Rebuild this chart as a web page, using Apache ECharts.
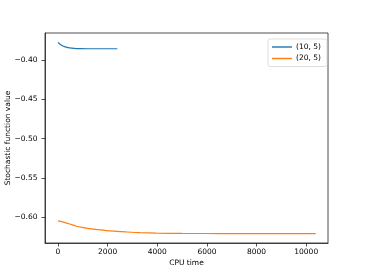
<!DOCTYPE html>
<html>
<head>
<meta charset="utf-8">
<script src="https://cdn.jsdelivr.net/npm/echarts@6/dist/echarts.min.js"></script>
<style>html,body{margin:0;padding:0;background:#fff}#c{width:365px;height:274px}</style>
</head>
<body>
<div id="c"></div>
<script>
var seriesNames = ['(10, 5)', '(20, 5)'];
var blueT = [0, 100, 200, 330, 470, 650, 870, 1200, 1600, 2000, 2390];
var blueV = [-0.3772, -0.3800, -0.3818, -0.3833, -0.3843, -0.3849, -0.3852, -0.3853, -0.3853, -0.3853, -0.3853];
var orangeT = [0, 250, 470, 740, 1000, 1275, 1600, 1950, 2350, 2750, 3300, 3960, 5000, 6000, 7000, 8000, 9000, 10380];
var orangeV = [-0.6050, -0.6068, -0.6089, -0.6118, -0.6135, -0.6149, -0.6162, -0.6174, -0.6183, -0.6191, -0.6200, -0.6206, -0.6210, -0.6211, -0.6212, -0.6212, -0.6213, -0.6213];
var xTicks = [0, 2000, 4000, 6000, 8000, 10000];
var yTicks = [-0.60, -0.55, -0.50, -0.45, -0.40];

function zip(a, b) { return a.map(function (v, i) { return [v, b[i]]; }); }
var font = 'DejaVu Sans';
var chart = echarts.init(document.getElementById('c'), null, {renderer: 'canvas'});
chart.setOption({
  animation: false,
  backgroundColor: '#fff',
  textStyle: {fontFamily: font},
  grid: {left: 45, right: 37, top: 33, bottom: 31, containLabel: false, outerBoundsMode: 'none',
    show: true, borderColor: '#222', borderWidth: 0.8, backgroundColor: 'transparent'},
  legend: {
    data: seriesNames, orient: 'vertical', left: 268, top: 39,
    itemWidth: 20, itemHeight: 1.4, itemGap: 3.5, icon: 'rect',
    padding: [4, 6, 4, 4], borderColor: '#d6d6d6', borderWidth: 0.8, borderRadius: 2,
    backgroundColor: 'rgba(255,255,255,0.8)',
    textStyle: {fontFamily: font, fontSize: 7.5, color: '#000', padding: [0, 0, 0, -1]}
  },
  xAxis: {
    type: 'value', min: -523, max: 10877,
    name: 'CPU time', nameLocation: 'middle', nameGap: 16.5, nameMoveOverlap: false,
    nameTextStyle: {fontFamily: font, fontSize: 7.5, color: '#000'},
    axisLine: {show: true, onZero: false, lineStyle: {color: '#222', width: 0.8}},
    axisTick: {show: true, length: 3.5, lineStyle: {color: '#222', width: 0.8}, customValues: xTicks},
    axisLabel: {fontFamily: font, fontSize: 7.5, color: '#000', margin: 5.5, customValues: xTicks, formatter: function (v) { return String(v); }},
    splitLine: {show: false}
  },
  yAxis: {
    type: 'value', min: -0.6332, max: -0.3652,
    name: 'Stochastic function value', nameLocation: 'middle', nameGap: 33, nameMoveOverlap: false,
    nameTextStyle: {fontFamily: font, fontSize: 7.5, color: '#000'},
    axisLine: {show: true, onZero: false, lineStyle: {color: '#222', width: 0.8}},
    axisTick: {show: true, length: 3.5, lineStyle: {color: '#222', width: 0.8}, customValues: yTicks},
    axisLabel: {fontFamily: font, fontSize: 7.5, color: '#000', margin: 7.5, customValues: yTicks,
      formatter: function (v) { return '\u2212' + Math.abs(v).toFixed(2); }},
    splitLine: {show: false}
  },
  series: [
    {name: seriesNames[0], type: 'line', data: zip(blueT, blueV), showSymbol: false, smooth: 0.3,
      lineStyle: {color: '#1f77b4', width: 1.2}, itemStyle: {color: '#1f77b4'}},
    {name: seriesNames[1], type: 'line', data: zip(orangeT, orangeV), showSymbol: false, smooth: 0.3,
      lineStyle: {color: '#ff7f0e', width: 1.2}, itemStyle: {color: '#ff7f0e'}}
  ]
});
</script>
</body>
</html>
